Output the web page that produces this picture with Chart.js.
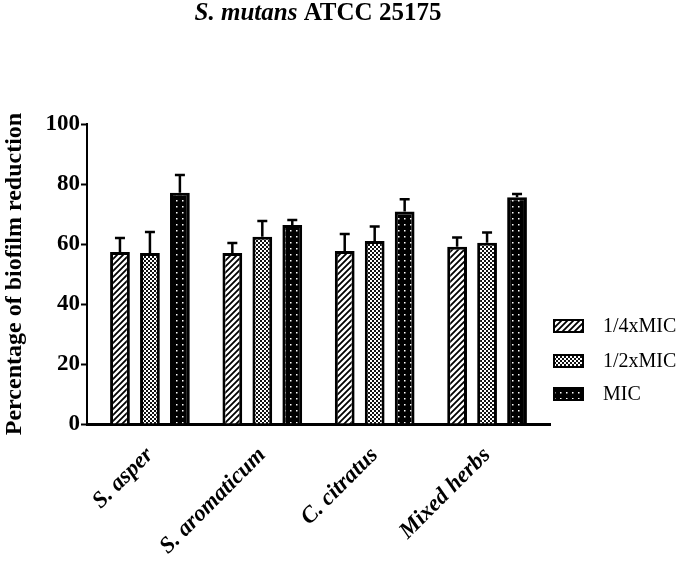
<!DOCTYPE html>
<html>
<head>
<meta charset="utf-8">
<script src="https://cdn.jsdelivr.net/npm/chart.js@4.4.1/dist/chart.umd.min.js"></script>
<style>
html,body{margin:0;padding:0;background:#fff;}
#wrap{width:683px;height:562px;position:relative;}
</style>
</head>
<body>
<div id="wrap"><canvas id="c" width="683" height="562"></canvas></div>
<script>
// ---- data ----
const categories = ["S. asper", "S. aromaticum", "C. citratus", "Mixed herbs"];
const seriesNames = ["1/4xMIC", "1/2xMIC", "MIC"];
const quarterMIC = [57.3, 57.0, 57.7, 59.1];
const quarterErr = [4.7, 3.3, 5.6, 3.1];
const halfMIC = [57.0, 62.4, 61.0, 60.4];
const halfErr = [7.0, 5.3, 4.8, 3.4];
const fullMIC = [77.1, 66.3, 70.8, 75.6];
const fullErr = [5.9, 1.7, 4.1, 1.1];
const yTicks = [0, 20, 40, 60, 80, 100];

// ---- patterns ----
function makeTile(w, h, draw) {
  const c = document.createElement('canvas');
  c.width = w; c.height = h;
  const g = c.getContext('2d');
  draw(g, w, h);
  return document.createElement('canvas').getContext('2d').createPattern(c, 'repeat');
}
const hatch = makeTile(6, 6, (g, w, h) => {
  g.fillStyle = '#fff'; g.fillRect(0, 0, w, h);
  g.strokeStyle = '#000'; g.lineWidth = 1.8;
  g.beginPath();
  g.moveTo(-1, h + 1); g.lineTo(w + 1, -1);
  g.moveTo(-1, 1); g.lineTo(1, -1);
  g.moveTo(w - 1, h + 1); g.lineTo(w + 1, h - 1);
  g.stroke();
});
const checker = makeTile(4, 4, (g, w, h) => {
  g.fillStyle = '#fff'; g.fillRect(0, 0, w, h);
  g.fillStyle = '#111';
  g.fillRect(0, 0, 2, 2); g.fillRect(2, 2, 2, 2);
});
const dots = makeTile(6, 6, (g, w, h) => {
  g.fillStyle = '#000'; g.fillRect(0, 0, w, h);
  g.fillStyle = '#fff';
  g.fillRect(2, 2, 1.5, 1.5);
});
const fills = [hatch, checker, dots];
const errs = [quarterErr, halfErr, fullErr];
const vals = [quarterMIC, halfMIC, fullMIC];

const serif = "'Liberation Serif', 'Times New Roman', serif";

const errorBars = {
  id: 'errorBars',
  afterDatasetsDraw(chart) {
    const ctx = chart.ctx;
    const ys = chart.scales.y;
    ctx.save();
    ctx.strokeStyle = '#000';
    ctx.lineWidth = 2.5;
    chart.data.datasets.forEach((ds, di) => {
      const meta = chart.getDatasetMeta(di);
      meta.data.forEach((bar, i) => {
        const v = vals[di][i], e = errs[di][i];
        const top = ys.getPixelForValue(v + e);
        const y0 = ys.getPixelForValue(v);
        ctx.beginPath();
        ctx.moveTo(bar.x, y0);
        ctx.lineTo(bar.x, top);
        ctx.moveTo(bar.x - 5, top);
        ctx.lineTo(bar.x + 5, top);
        ctx.stroke();
      });
    });
    ctx.restore();
  }
};

const titleAndLegend = {
  id: 'titleAndLegend',
  afterDraw(chart) {
    const ctx = chart.ctx;
    ctx.save();
    // title
    ctx.fillStyle = '#000';
    ctx.textBaseline = 'alphabetic';
    const f1 = "italic bold 25px " + serif;
    const f2 = "bold 25px " + serif;
    const t1 = "S. mutans ", t2 = "ATCC 25175";
    ctx.font = f1; const w1 = ctx.measureText(t1).width;
    ctx.font = f2; const w2 = ctx.measureText(t2).width;
    const cx = 318;
    let x = cx - (w1 + w2) / 2;
    ctx.font = f1; ctx.fillText(t1, x, 20);
    ctx.font = f2; ctx.fillText(t2, x + w1, 20);
    // legend
    const ly = [326, 361, 394];
    ctx.font = "20px " + serif;
    ctx.textBaseline = 'middle';
    seriesNames.forEach((n, i) => {
      ctx.fillStyle = fills[i];
      ctx.fillRect(554, ly[i] - 6, 29, 12);
      ctx.strokeStyle = '#000';
      ctx.lineWidth = 2;
      ctx.strokeRect(554, ly[i] - 6, 29, 12);
      ctx.fillStyle = '#000';
      ctx.fillText(n, 603, ly[i] + 1);
    });
    ctx.restore();
  }
};

const datasets = seriesNames.map((n, si) => ({
  label: n,
  data: vals[si].map((v, i) => ({ x: i, y: v })),
  backgroundColor: fills[si],
  borderColor: '#000',
  borderWidth: 3,
  barPercentage: 0.66,
  categoryPercentage: 0.8
}));

new Chart(document.getElementById('c'), {
  type: 'bar',
  data: { datasets },
  plugins: [errorBars, titleAndLegend],
  options: {
    responsive: false,
    animation: false,
    layout: { padding: { top: 124, right: 133, left: 0, bottom: 0 } },
    plugins: { legend: { display: false }, title: { display: false }, tooltip: { enabled: false } },
    scales: {
      x: {
        type: 'linear',
        offset: false,
        min: -0.56,
        max: 3.56,
        afterBuildTicks(s) { s.ticks = categories.map((_, i) => ({ value: i })); },
        afterFit(s) { s.height = 562 - 424; },
        ticks: {
          autoSkip: false,
          maxRotation: 45,
          minRotation: 45,
          color: '#000',
          padding: 18,
          font: { family: serif, size: 23, weight: 'bold', style: 'italic' },
          callback: (v) => categories[v]
        },
        grid: { display: true, drawOnChartArea: false, drawTicks: false },
        border: { color: '#000', width: 3 }
      },
      y: {
        min: 0,
        max: 100,
        afterBuildTicks(s) { s.ticks = yTicks.map(v => ({ value: v })); },
        afterFit(s) { s.width = 87; },
        ticks: {
          color: '#000',
          padding: 1,
          font: { family: serif, size: 23, weight: 'bold' }
        },
        grid: { drawOnChartArea: false, drawTicks: true, tickLength: 6, tickWidth: 2, color: '#000' },
        border: { color: '#000', width: 2 },
        title: {
          display: true,
          text: 'Percentage of biofilm reduction',
          color: '#000',
          padding: { top: 0, bottom: 0 },
          font: { family: serif, size: 24, weight: 'bold' }
        }
      }
    }
  }
});
</script>
</body>
</html>
